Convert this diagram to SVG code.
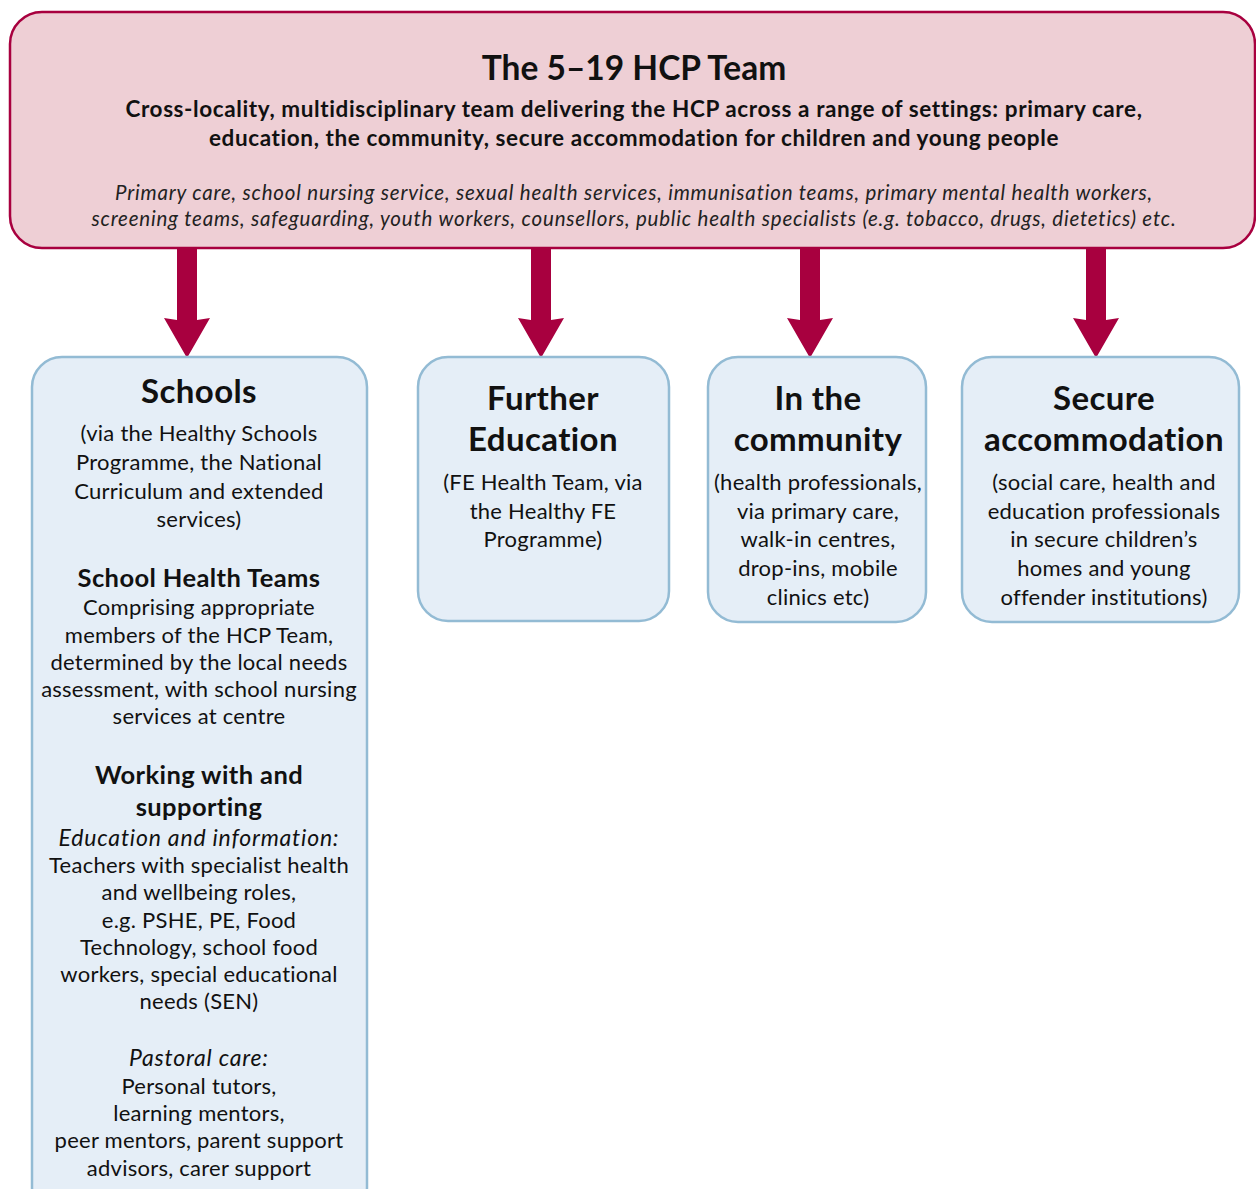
<svg xmlns="http://www.w3.org/2000/svg" width="1256" height="1189" viewBox="0 0 1256 1189">
<style>
text{font-family:Lato,"Open Sans",sans-serif;fill:#111;text-anchor:middle}
.h1{font-size:33.5px;font-weight:bold}
.h2{font-size:22.5px;font-weight:bold;letter-spacing:0.6px}
.it{font-size:20.5px;font-style:italic;fill:#222;letter-spacing:0.8px}
.nh{font-size:33px;font-weight:bold;letter-spacing:0.4px}
.b{font-size:22px;letter-spacing:0.25px}
.sh{font-size:25.5px;font-weight:bold;letter-spacing:0.4px}
.bi{font-size:23px;font-style:italic;letter-spacing:0.8px}
.top{fill:#eecfd5;stroke:#a8003f;stroke-width:2.5}
.box{fill:#e5eef7;stroke:#93bbd4;stroke-width:2.5}
.arr{fill:#a8003f}
</style>
<defs>
<path id="ar" class="arr" d="M-10,0 H10 V72 L23,70 L0,110 L-23,70 L-10,72 Z"/>
</defs>
<g id="connectors">
<use href="#ar" x="187" y="248"/>
<use href="#ar" x="541" y="248"/>
<use href="#ar" x="810" y="248"/>
<use href="#ar" x="1096" y="248"/>
</g>
<g id="team">
<rect class="top" x="10" y="12" width="1245" height="236" rx="32"/>
<text class="h1" x="634" y="80">The 5–19 HCP Team</text>
<text class="h2" x="634" y="117">Cross-locality, multidisciplinary team delivering the HCP across a range of settings: primary care,</text>
<text class="h2" x="634" y="146">education, the community, secure accommodation for children and young people</text>
<text class="it" x="634" y="200">Primary care, school nursing service, sexual health services, immunisation teams, primary mental health workers,</text>
<text class="it" x="634" y="226">screening teams, safeguarding, youth workers, counsellors, public health specialists (e.g. tobacco, drugs, dietetics) etc.</text>
</g>
<g id="schools">
<rect class="box" x="32" y="357" width="335" height="860" rx="30"/>
<text class="nh" x="199" y="403">Schools</text>
<text class="b" x="199" y="441">(via the Healthy Schools</text>
<text class="b" x="199" y="470">Programme, the National</text>
<text class="b" x="199" y="499">Curriculum and extended</text>
<text class="b" x="199" y="527">services)</text>
<text class="sh" x="199" y="587">School Health Teams</text>
<text class="b" x="199" y="615">Comprising appropriate</text>
<text class="b" x="199" y="643">members of the HCP Team,</text>
<text class="b" x="199" y="670">determined by the local needs</text>
<text class="b" x="199" y="697">assessment, with school nursing</text>
<text class="b" x="199" y="724">services at centre</text>
<text class="sh" x="199" y="784">Working with and</text>
<text class="sh" x="199" y="816">supporting</text>
<text class="bi" x="199" y="846">Education and information:</text>
<text class="b" x="199" y="873">Teachers with specialist health</text>
<text class="b" x="199" y="900">and wellbeing roles,</text>
<text class="b" x="199" y="928">e.g. PSHE, PE, Food</text>
<text class="b" x="199" y="955">Technology, school food</text>
<text class="b" x="199" y="982">workers, special educational</text>
<text class="b" x="199" y="1009">needs (SEN)</text>
<text class="bi" x="199" y="1066">Pastoral care:</text>
<text class="b" x="199" y="1094">Personal tutors,</text>
<text class="b" x="199" y="1121">learning mentors,</text>
<text class="b" x="199" y="1148">peer mentors, parent support</text>
<text class="b" x="199" y="1176">advisors, carer support</text>
</g>
<g id="further-education">
<rect class="box" x="418" y="357" width="251" height="264" rx="30"/>
<text class="nh" x="543" y="410">Further</text>
<text class="nh" x="543" y="451">Education</text>
<text class="b" x="543" y="490">(FE Health Team, via</text>
<text class="b" x="543" y="519">the Healthy FE</text>
<text class="b" x="543" y="547">Programme)</text>
</g>
<g id="community">
<rect class="box" x="708" y="357" width="218" height="265" rx="30"/>
<text class="nh" x="818" y="410">In the</text>
<text class="nh" x="818" y="451">community</text>
<text class="b" x="818" y="490">(health professionals,</text>
<text class="b" x="818" y="519">via primary care,</text>
<text class="b" x="818" y="547">walk-in centres,</text>
<text class="b" x="818" y="576">drop-ins, mobile</text>
<text class="b" x="818" y="605">clinics etc)</text>
</g>
<g id="secure">
<rect class="box" x="962" y="357" width="277" height="265" rx="30"/>
<text class="nh" x="1104" y="410">Secure</text>
<text class="nh" x="1104" y="451">accommodation</text>
<text class="b" x="1104" y="490">(social care, health and</text>
<text class="b" x="1104" y="519">education professionals</text>
<text class="b" x="1104" y="547">in secure children’s</text>
<text class="b" x="1104" y="576">homes and young</text>
<text class="b" x="1104" y="605">offender institutions)</text>
</g>
</svg>
